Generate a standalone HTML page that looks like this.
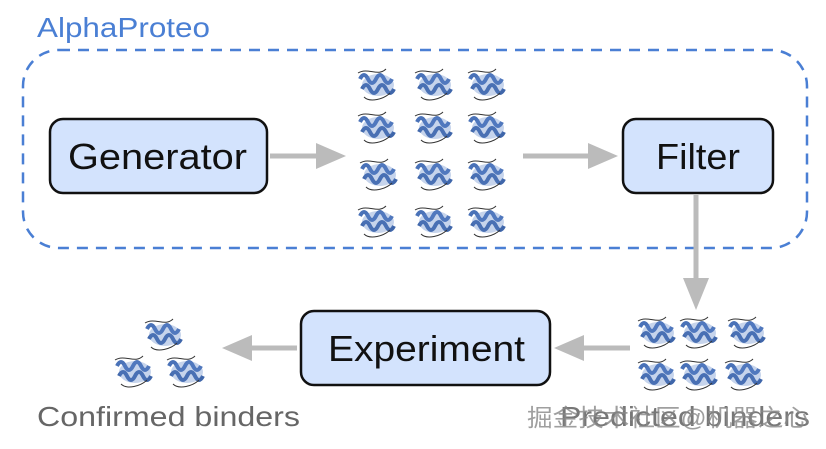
<!DOCTYPE html>
<html><head><meta charset="utf-8"><style>
html,body{margin:0;padding:0;background:#fff;width:826px;height:449px;overflow:hidden}
</style></head><body>
<svg width="826" height="449" viewBox="0 0 826 449" xmlns="http://www.w3.org/2000/svg" font-family="Liberation Sans, sans-serif">
<defs>
<g id="p">
  <path d="M-18,-6 q4,-8 8,0 q4,8 8,0 q4,-8 8,0 q4,8 8,0" fill="none" stroke="#4a72b8" stroke-width="4"/>
  <path d="M-16,4 q4,-8 8,0 q4,8 8,0 q4,-8 8,0 q4,8 8,0" fill="none" stroke="#3f66aa" stroke-width="4"/>
  <path d="M-20,-12 c10,-6 20,4 28,-4 M-14,12 c6,6 20,2 26,-4" fill="none" stroke="#333" stroke-width="1"/>
  <ellipse cx="0" cy="0" rx="16" ry="11" fill="#5b85c8" opacity="0.35"/>
</g>
</defs>
<text x="37" y="37" font-size="28" fill="#4a7fd4" textLength="173" lengthAdjust="spacingAndGlyphs">AlphaProteo</text>
<rect x="23" y="50" width="784" height="198" rx="36" fill="none" stroke="#4a7fd4" stroke-width="2.5" stroke-dasharray="11,8"/>
<rect x="50" y="119" width="217" height="74" rx="13" fill="#d3e3fd" stroke="#111" stroke-width="2.5"/>
<text x="68" y="169" font-size="36" fill="#111" textLength="179" lengthAdjust="spacingAndGlyphs">Generator</text>
<rect x="623" y="119" width="150" height="74" rx="13" fill="#d3e3fd" stroke="#111" stroke-width="2.5"/>
<text x="656" y="169" font-size="36" fill="#111" textLength="84" lengthAdjust="spacingAndGlyphs">Filter</text>
<rect x="301" y="311" width="249" height="74" rx="13" fill="#d3e3fd" stroke="#111" stroke-width="2.5"/>
<text x="328" y="361" font-size="36" fill="#111" textLength="197" lengthAdjust="spacingAndGlyphs">Experiment</text>
<g fill="#bbb" stroke="#bbb">
  <line x1="270" y1="156" x2="318" y2="156" stroke-width="5"/><polygon points="316,143 346,156 316,169" stroke="none"/>
  <line x1="523" y1="156" x2="590" y2="156" stroke-width="5"/><polygon points="588,143 618,156 588,169" stroke="none"/>
  <line x1="696" y1="195" x2="696" y2="280" stroke-width="5"/><polygon points="683,278 709,278 696,310" stroke="none"/>
  <line x1="630" y1="348" x2="582" y2="348" stroke-width="5"/><polygon points="584,335 554,348 584,361" stroke="none"/>
  <line x1="297" y1="348" x2="250" y2="348" stroke-width="5"/><polygon points="252,335 222,348 252,361" stroke="none"/>
</g>
<use href="#p" x="378" y="85"/><use href="#p" x="435" y="85"/><use href="#p" x="488" y="85"/>
<use href="#p" x="378" y="128"/><use href="#p" x="435" y="128"/><use href="#p" x="488" y="128"/>
<use href="#p" x="380" y="175"/><use href="#p" x="435" y="175"/><use href="#p" x="488" y="175"/>
<use href="#p" x="378" y="222"/><use href="#p" x="435" y="222"/><use href="#p" x="488" y="222"/>
<use href="#p" x="658" y="333"/><use href="#p" x="700" y="333"/><use href="#p" x="748" y="333"/>
<use href="#p" x="658" y="375"/><use href="#p" x="700" y="375"/><use href="#p" x="745" y="375"/>
<use href="#p" x="165" y="335"/><use href="#p" x="135" y="372"/><use href="#p" x="187" y="372"/>
<text x="37" y="426" font-size="28" fill="#666" textLength="263" lengthAdjust="spacingAndGlyphs">Confirmed binders</text>
<text x="560" y="426" font-size="28" fill="#777" textLength="250" lengthAdjust="spacingAndGlyphs">Predicted binders</text>
<text x="527" y="426" font-size="24" fill="#888" font-family="Liberation Sans, Noto Sans CJK SC, sans-serif" opacity="0.8" textLength="282" lengthAdjust="spacingAndGlyphs">掘金技术社区@机器之心</text>
</svg>
</body></html>
